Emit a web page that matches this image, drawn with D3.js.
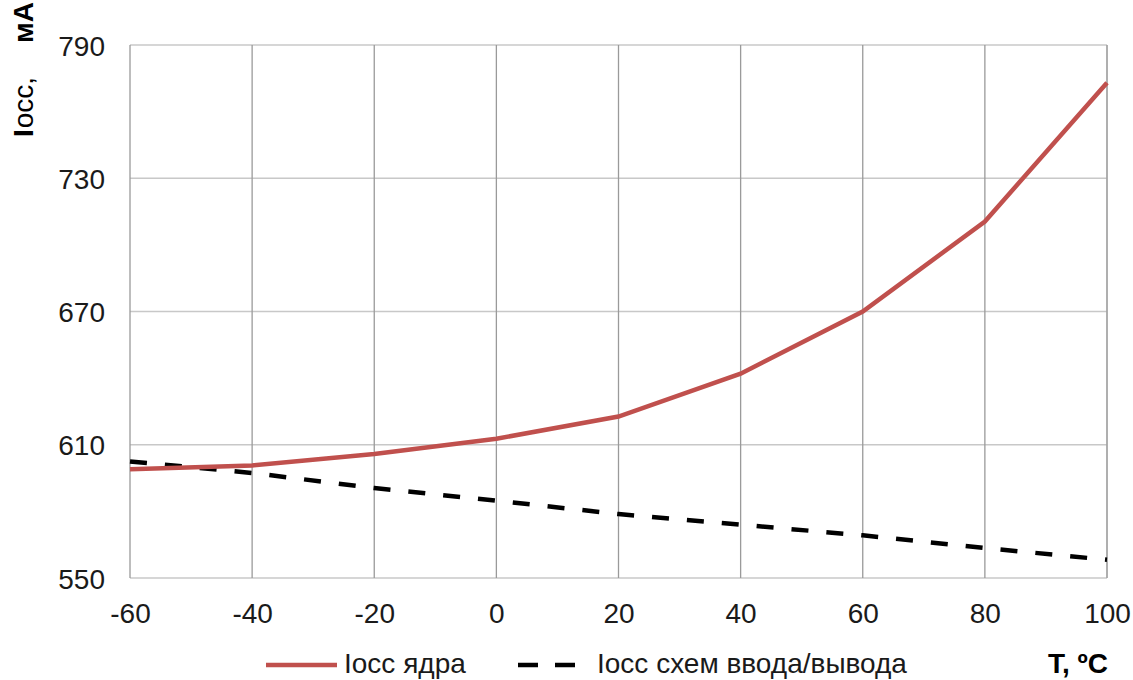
<!DOCTYPE html>
<html><head><meta charset="utf-8">
<script src="https://cdn.jsdelivr.net/npm/d3@7"></script>
<style>body{margin:0;background:#fff;}svg{display:block;font-family:"Liberation Sans",Arial,sans-serif;}</style>
</head><body><svg id="c" width="1133" height="680"></svg>
<script>
const temps = [-60, -40, -20, 0, 20, 40, 60, 80, 100];
const coreCurrent = [599, 600.7, 605.8, 612.7, 622.7, 642, 670, 710.5, 773];
const ioCurrent = [602.5, 597.3, 590.5, 584.8, 578.8, 574, 569.2, 563.5, 558.2];
const yTicks = [550, 610, 670, 730, 790];
const xTicks = [-60, -40, -20, 0, 20, 40, 60, 80, 100];
const seriesNames = ["Iocc ядра", "Iocc схем ввода/вывода"];

const svg = d3.select("#c");
const L = 130, R = 1107, T = 45, B = 578;
const FS = 28;
const x = d3.scaleLinear().domain([-60, 100]).range([L, R]);
const y = d3.scaleLinear().domain([550, 790]).range([B, T]);

// horizontal grid
svg.append("g").selectAll("line").data(yTicks).join("line")
  .attr("x1", L).attr("x2", R).attr("y1", d => y(d)).attr("y2", d => y(d))
  .attr("stroke", "#c8c8c8").attr("stroke-width", 1.3);
// vertical grid
svg.append("g").selectAll("line").data(xTicks).join("line")
  .attr("x1", d => x(d)).attr("x2", d => x(d)).attr("y1", T).attr("y2", B)
  .attr("stroke", "#9a9a9a").attr("stroke-width", 1.3);
svg.append("line").attr("x1", R).attr("x2", R).attr("y1", T).attr("y2", B).attr("stroke", "#a8a8a8").attr("stroke-width", 1.3);

// axes via d3
const yAxis = d3.axisLeft(y).tickValues(yTicks).tickSize(0).tickPadding(25).tickFormat(d => String(d));
const gy = svg.append("g").attr("transform", `translate(${L},0)`).call(yAxis);
gy.select(".domain").remove();
gy.selectAll("text").attr("font-size", FS).attr("fill", "#1a1a1a").attr("dy", "0.36em")
  .attr("font-family", "Liberation Sans, Arial, sans-serif");

const xAxis = d3.axisBottom(x).tickValues(xTicks).tickSize(0).tickPadding(25).tickFormat(d => String(d));
const gx = svg.append("g").attr("transform", `translate(0,${B})`).call(xAxis);
gx.select(".domain").remove();
gx.selectAll("text").attr("font-size", FS).attr("fill", "#1a1a1a").attr("dy", "0.71em")
  .attr("font-family", "Liberation Sans, Arial, sans-serif");

const line = d3.line().x((d, i) => x(temps[i])).y(d => y(d));
svg.append("path").datum(ioCurrent).attr("d", line).attr("fill", "none")
  .attr("stroke", "#000").attr("stroke-width", 4.5).attr("stroke-dasharray", "17,18");
svg.append("path").datum(coreCurrent).attr("d", line).attr("fill", "none")
  .attr("stroke", "#c0504d").attr("stroke-width", 4.5);

// y title
const yt = svg.append("text").attr("transform", "translate(33,137) rotate(-90)")
  .attr("font-size", FS).attr("fill", "#000");
yt.append("tspan").text("I").attr("font-weight", "bold");
yt.append("tspan").text("occ,").attr("dx", 1);
svg.append("text").attr("transform", "translate(33,43) rotate(-90)")
  .attr("font-size", FS).attr("font-weight", "bold").attr("fill", "#000").text("мА");

// legend
const lg = svg.append("g").attr("font-size", FS).attr("fill", "#1a1a1a");
lg.append("line").attr("x1", 266).attr("x2", 337).attr("y1", 665).attr("y2", 665).attr("stroke", "#c0504d").attr("stroke-width", 4.5);
lg.append("text").attr("x", 344).attr("y", 673).text(seriesNames[0]);
lg.append("line").attr("x1", 518).attr("x2", 575).attr("y1", 665).attr("y2", 665).attr("stroke", "#000").attr("stroke-width", 4.5).attr("stroke-dasharray", "20,17");
lg.append("text").attr("x", 597).attr("y", 673).text(seriesNames[1]);

svg.append("text").attr("x", 1108).attr("y", 673).attr("text-anchor", "end")
  .attr("font-size", FS).attr("font-weight", "bold").text("T, ºC");
</script></body></html>
